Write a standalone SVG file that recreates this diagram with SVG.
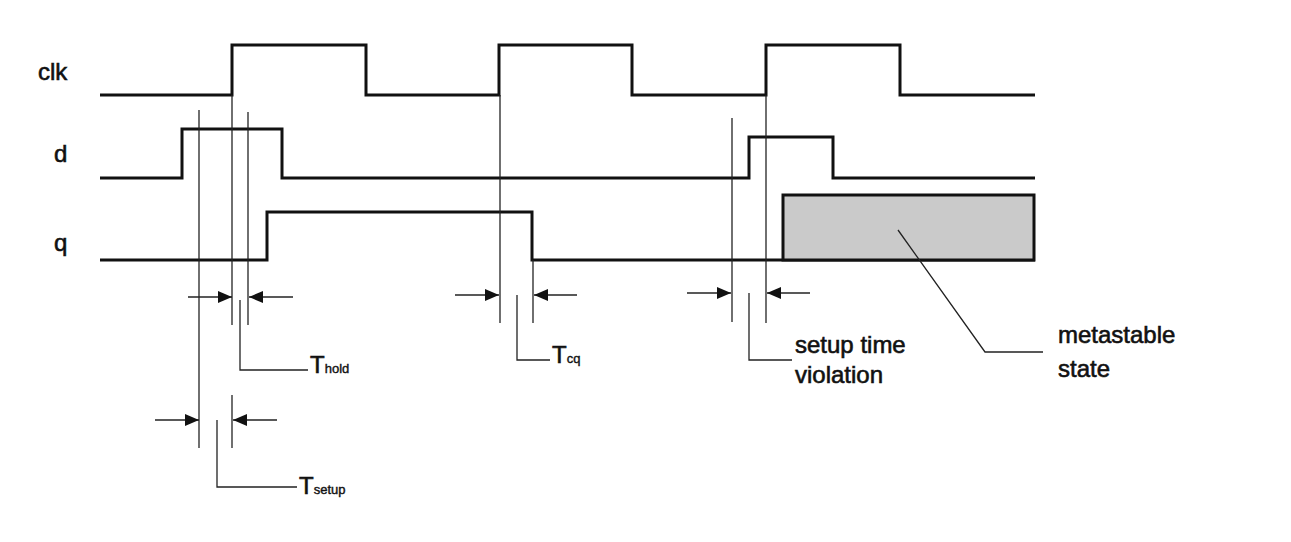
<svg xmlns="http://www.w3.org/2000/svg" width="1291" height="542" viewBox="0 0 1291 542">
<style>
.sig{fill:none;stroke:#111;stroke-width:3;stroke-linejoin:miter}
.thin{fill:none;stroke:#222;stroke-width:1.3}
.arr{fill:none;stroke:#222;stroke-width:1.4;marker-end:url(#ah)}
.lbl{font-family:"Liberation Sans",Arial,sans-serif;fill:#111;font-size:24px;stroke:#111;stroke-width:0.6}
.sub{font-size:13px;stroke-width:0.4}
</style>
<defs>
<marker id="ah" markerUnits="userSpaceOnUse" markerWidth="15" markerHeight="12" refX="14" refY="6" orient="auto">
<path d="M0,0 L14,6 L0,12 Z" fill="#111"/>
</marker>
</defs>
<rect width="1291" height="542" fill="#fff"/>
<g id="labels">
<text class="lbl" x="38" y="80" font-size="24">clk</text>
<text class="lbl" x="54" y="162">d</text>
<text class="lbl" x="54" y="251">q</text>
</g>
<g id="clk">
<polyline class="sig" points="100,95 232,95 232,45 366,45 366,95 499,95 499,45 632,45 632,95 766,95 766,45 900,45 900,95 1035,95"/>
</g>
<g id="d">
<polyline class="sig" points="100,178 182,178 182,129 282,129 282,178 749,178 749,137 833,137 833,178 1035,178"/>
</g>
<g id="q">
<polyline class="sig" points="100,260 267,260 267,212 532,212 532,260 1035,260"/>
</g>
<g id="metastable">
<rect x="783" y="195" width="251" height="65" fill="#cacaca" stroke="#111" stroke-width="3"/>
<polyline class="thin" points="898,230 985,352 1043,352"/>
<text class="lbl" x="1058" y="343">metastable</text>
<text class="lbl" x="1058" y="377">state</text>
</g>
<g id="connectors">
<line class="thin" x1="199" y1="110" x2="199" y2="448"/>
<line class="thin" x1="232" y1="95" x2="232" y2="325"/>
<line class="thin" x1="248" y1="112" x2="248" y2="325"/>
<line class="arr" x1="188" y1="297" x2="232" y2="297"/>
<line class="arr" x1="293" y1="297" x2="249" y2="297"/>
<polyline class="thin" points="240,300 240,370 308,370"/>
<line class="thin" x1="232" y1="395" x2="232" y2="448"/>
<line class="arr" x1="155" y1="420" x2="199" y2="420"/>
<line class="arr" x1="277" y1="420" x2="233" y2="420"/>
<polyline class="thin" points="217,420 217,487 297,487"/>
<line class="thin" x1="500" y1="95" x2="500" y2="323"/>
<line class="thin" x1="533" y1="260" x2="533" y2="323"/>
<line class="arr" x1="455" y1="295" x2="499" y2="295"/>
<line class="arr" x1="577" y1="295" x2="534" y2="295"/>
<polyline class="thin" points="517,295 517,360 550,360"/>
<line class="thin" x1="732" y1="118" x2="732" y2="322"/>
<line class="thin" x1="766" y1="95" x2="766" y2="323"/>
<line class="arr" x1="687" y1="293" x2="731" y2="293"/>
<line class="arr" x1="810" y1="293" x2="767" y2="293"/>
<polyline class="thin" points="749,293 749,360 792,360"/>
</g>
<g id="timing-labels">
<text class="lbl" x="310" y="373" font-size="22">T<tspan class="sub" font-size="13">hold</tspan></text>
<text class="lbl" x="299" y="494" font-size="23">T<tspan class="sub" font-size="14">setup</tspan></text>
<text class="lbl" x="552" y="363" font-size="22">T<tspan class="sub" font-size="14">cq</tspan></text>
<text class="lbl" x="795" y="353">setup time</text>
<text class="lbl" x="795" y="383">violation</text>
</g>
</svg>
